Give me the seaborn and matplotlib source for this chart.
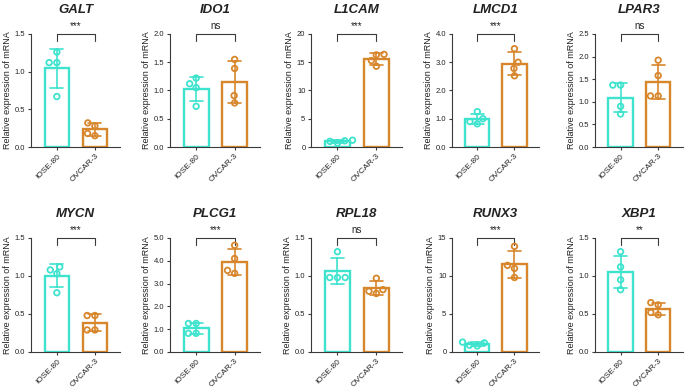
import matplotlib
matplotlib.use("Agg")
import matplotlib.pyplot as plt
import numpy as np
import pandas as pd
import seaborn as sns

groups = ["IOSE-80", "OVCAR-3"]
genes = ["GALT", "IDO1", "L1CAM", "LMCD1", "LPAR3",
         "MYCN", "PLCG1", "RPL18", "RUNX3", "XBP1"]

galt_iose = [1.26, 1.12, 1.12, 0.67]
galt_ovcar = [0.32, 0.28, 0.18, 0.15]
ido1_iose = [1.22, 1.12, 1.05, 0.72]
ido1_ovcar = [1.55, 1.39, 0.91, 0.78]
l1cam_iose = [0.70, 1.20, 1.00, 1.10]
l1cam_ovcar = [16.4, 16.3, 15.3, 14.3]
lmcd1_iose = [1.25, 1.00, 0.90, 0.82]
lmcd1_ovcar = [3.48, 3.00, 2.78, 2.52]
lpar3_iose = [1.37, 1.37, 0.90, 0.73]
lpar3_ovcar = [1.92, 1.58, 1.13, 1.13]
mycn_iose = [1.12, 1.08, 1.03, 0.78]
mycn_ovcar = [0.48, 0.48, 0.29, 0.29]
plcg1_iose = [1.25, 1.25, 0.82, 0.82]
plcg1_ovcar = [4.68, 4.10, 3.58, 3.45]
rpl18_iose = [1.32, 0.98, 0.98, 0.98]
rpl18_ovcar = [0.97, 0.82, 0.80, 0.77]
runx3_iose = [1.30, 0.80, 0.90, 1.20]
runx3_ovcar = [13.9, 11.4, 11.0, 9.8]
xbp1_iose = [1.32, 1.12, 0.95, 0.82]
xbp1_ovcar = [0.65, 0.62, 0.52, 0.49]

iose_values = [galt_iose, ido1_iose, l1cam_iose, lmcd1_iose, lpar3_iose,
               mycn_iose, plcg1_iose, rpl18_iose, runx3_iose, xbp1_iose]
ovcar_values = [galt_ovcar, ido1_ovcar, l1cam_ovcar, lmcd1_ovcar, lpar3_ovcar,
                mycn_ovcar, plcg1_ovcar, rpl18_ovcar, runx3_ovcar, xbp1_ovcar]
significance = ["***", "ns", "***", "***", "ns", "***", "***", "ns", "***", "**"]
y_max = [1.5, 2.0, 20, 4.0, 2.5, 1.5, 5.0, 1.5, 15, 1.5]
y_step = [0.5, 0.5, 5, 1.0, 0.5, 0.5, 1.0, 0.5, 5, 0.5]
y_fmt = ["{:.1f}", "{:.1f}", "{:.0f}", "{:.1f}", "{:.1f}",
         "{:.1f}", "{:.1f}", "{:.1f}", "{:.0f}", "{:.1f}"]

palette = {"IOSE-80": "#3EE3CE", "OVCAR-3": "#D8862C"}
axis_color = "#3a3a3a"
text_color = "#222222"

sns.set_theme(style="ticks")
plt.rcParams["font.family"] = ["Liberation Sans", "DejaVu Sans"]

W, H = 685, 388
fig = plt.figure(figsize=(W / 100, H / 100), dpi=100)
fig.patch.set_facecolor("white")

col_left = [31, 170, 311, 452, 595]
col_right = [120, 260, 402, 539, 683]
row_top = [34, 238]
row_bottom = [147, 352]

for i, gene in enumerate(genes):
    r, c = divmod(i, 5)
    rect = [col_left[c] / W, 1 - row_bottom[r] / H,
            (col_right[c] - col_left[c]) / W, (row_bottom[r] - row_top[r]) / H]
    ax = fig.add_axes(rect)
    ax.set_facecolor("white")
    df = pd.DataFrame({
        "group": [groups[0]] * len(iose_values[i]) + [groups[1]] * len(ovcar_values[i]),
        "value": iose_values[i] + ovcar_values[i],
    })
    sns.barplot(data=df, x="group", y="value", hue="group", palette=palette,
                fill=False, errorbar="sd", capsize=0.34, linewidth=1.7,
                width=0.65, err_kws={"linewidth": 1.2}, legend=False, ax=ax)
    n_before = len(ax.collections)
    sns.swarmplot(data=df, x="group", y="value", hue="group", palette=palette,
                  size=4.0, linewidth=1.3, legend=False, ax=ax)
    for coll in ax.collections[n_before:]:
        fc = coll.get_facecolors()
        coll.set_edgecolors(fc)
        coll.set_facecolor("none")
        coll.set_linewidth(1.3)
        coll.set_zorder(4)

    ym = y_max[i]
    ax.set_ylim(0, ym)
    ax.set_xlim(-0.68, 1.66)
    ticks = np.arange(0, ym + y_step[i] / 2, y_step[i])
    ax.set_yticks(ticks)
    ax.set_yticklabels([y_fmt[i].format(t) for t in ticks])
    ax.set_xticks([0, 1])
    ax.set_xticklabels(groups, rotation=45, ha="right", rotation_mode="anchor")
    ax.tick_params(axis="both", length=2.5, width=0.8, color=axis_color,
                   labelcolor=text_color, pad=1.5)
    ax.tick_params(axis="y", labelsize=5.5)
    ax.tick_params(axis="x", labelsize=6)
    ax.set_xlabel("")
    ax.set_ylabel("Relative expression of mRNA", fontsize=6.5, color=text_color, labelpad=2)
    sns.despine(ax=ax)
    for s in ["left", "bottom"]:
        ax.spines[s].set_color(axis_color)
        ax.spines[s].set_linewidth(0.8)

    # significance bracket
    d = ym * 0.06
    ax.plot([0, 0, 1, 1], [ym - d, ym, ym, ym - d], color=axis_color, lw=0.8,
            clip_on=False)
    ax.text(0.5, ym + ym * 0.03, significance[i], ha="center", va="bottom",
            fontsize=7, color=text_color)
    ax.set_title(gene, fontsize=9.5, fontweight="bold", fontstyle="italic",
                 color=text_color, pad=15)

fig.savefig("out.png", dpi=100, facecolor="white")
